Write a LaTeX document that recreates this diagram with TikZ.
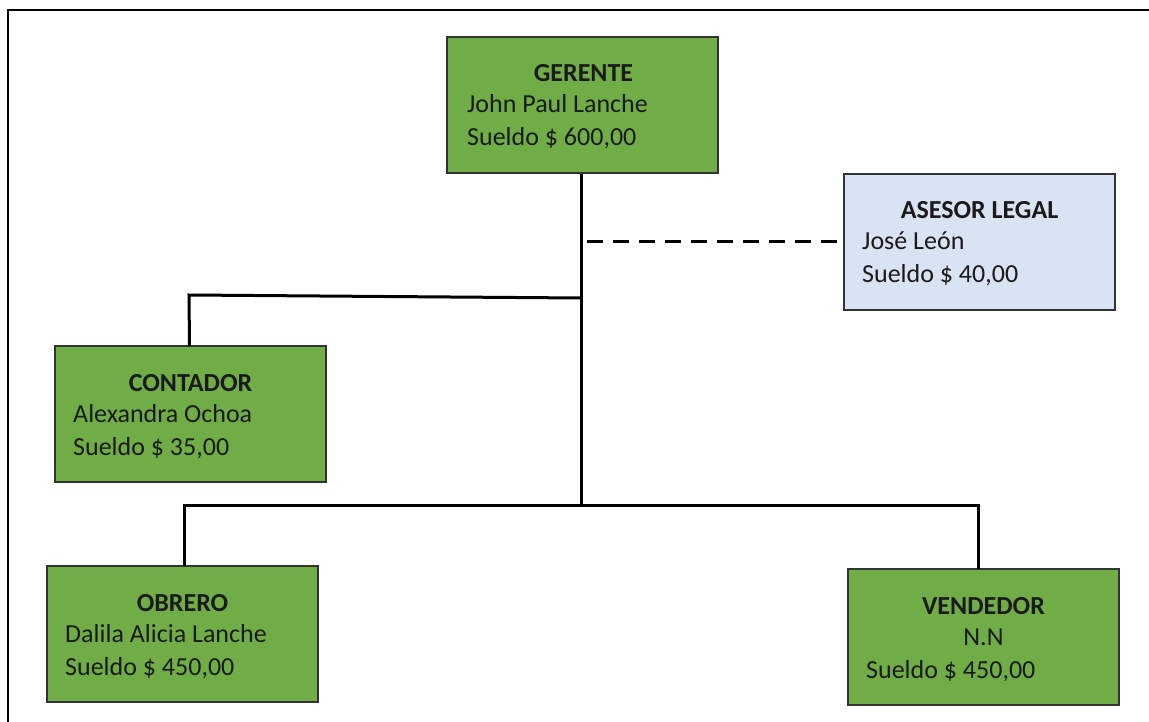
\documentclass[tikz,border=0pt]{standalone}
\usepackage{fontspec}
\setmainfont{Carlito}
\usetikzlibrary{calc}
\definecolor{boxgreen}{HTML}{70AD47}
\definecolor{boxblue}{HTML}{DAE3F3}
\definecolor{edge}{HTML}{333333}
\definecolor{ink}{HTML}{1A1A1A}
\tikzset{
  orgbox/.style={draw=edge, line width=1.8pt, anchor=north west, minimum width=271pt, minimum height=136pt, inner sep=0pt, outer sep=0pt},
  greenbox/.style={orgbox, fill=boxgreen},
  bluebox/.style={orgbox, fill=boxblue},
  txt/.style={font=\fontsize{26}{30}\selectfont, text=ink, inner sep=0pt, anchor=base west},
  ctxt/.style={font=\fontsize{26}{30}\selectfont, text=ink, inner sep=0pt, anchor=base},
  ttl/.style={font=\fontsize{26}{30}\selectfont\bfseries, text=ink, inner sep=0pt, anchor=base},
  conn/.style={draw=black, line width=3pt},
  dashconn/.style={draw=black, line width=3pt, dash pattern=on 16pt off 10pt},
  frame/.style={draw=black, line width=2.6pt}
}
\begin{document}
\begin{tikzpicture}[x=1pt,y=-1pt]
\useasboundingbox (0,0) rectangle (1149,722);
\fill[white] (0,0) rectangle (1149,722);
\draw[frame] (8,722) -- (8,10) -- (1149,10);

% boxes
\node[greenbox] (ger) at (447,37) {};
\node[bluebox] (ase) at (844,174) {};
\node[greenbox] (con) at (55,346) {};
\node[greenbox] (obr) at (47,566) {};
\node[greenbox] (ven) at (848,569) {};

% texts
\node[ttl] (gerT) at ($(ger.north)+(1,45)$) {GERENTE};
\node[txt] (gerA) at ($(ger.north west)+(20,76)$) {John Paul Lanche};
\node[txt] (gerB) at ($(ger.north west)+(20,109)$) {Sueldo \$ 600,00};

\node[ttl] (aseT) at ($(ase.north)+(0,45)$) {ASESOR LEGAL};
\node[txt] (aseA) at ($(ase.north west)+(18,76)$) {José León};
\node[txt] (aseB) at ($(ase.north west)+(18,109)$) {Sueldo \$ 40,00};

\node[ttl] (conT) at ($(con.north)+(0,45)$) {CONTADOR};
\node[txt] (conA) at ($(con.north west)+(18,76)$) {Alexandra Ochoa};
\node[txt] (conB) at ($(con.north west)+(18,109)$) {Sueldo \$ 35,00};

\node[ttl] (obrT) at ($(obr.north)+(0,45)$) {OBRERO};
\node[txt] (obrA) at ($(obr.north west)+(18,76)$) {Dalila Alicia Lanche};
\node[txt] (obrB) at ($(obr.north west)+(18,109)$) {Sueldo \$ 450,00};

\node[ttl] (venT) at ($(ven.north)+(0,45)$) {VENDEDOR};
\node[ctxt] (venA) at ($(ven.north)+(0,76)$) {N.N};
\node[txt] (venB) at ($(ven.north west)+(18,109)$) {Sueldo \$ 450,00};

% junctions
\coordinate (j1) at (581,298);
\coordinate (j2) at (581,505);
\coordinate (gs) at (581,174);

% connectors
\draw[conn] (gs) -- (j2);
\draw[conn] ($(con.north)+(-1,0)$) -- (189,295) -- (j1);
\draw[conn] ($(obr.north)+(1.5,0)$) |- (j2);
\draw[conn] ($(ven.north)+(-5,0)$) |- (j2);
\draw[dashconn] ($(gs |- ase.west)+(6,0)$) -- (ase.west);
\end{tikzpicture}
\end{document}
